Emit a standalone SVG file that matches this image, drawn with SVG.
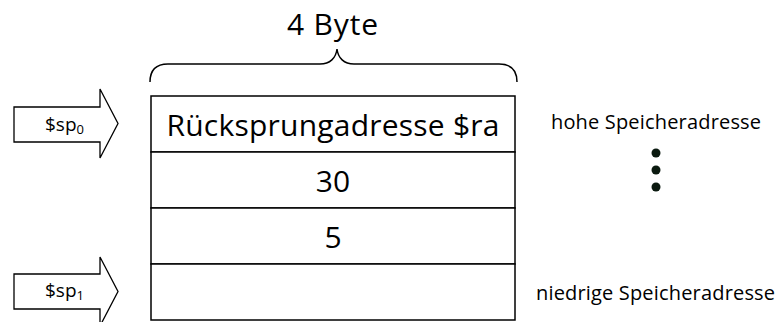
<svg xmlns="http://www.w3.org/2000/svg" width="779" height="322" viewBox="0 0 779 322">
<style>
text{font-family:"Open Sans","Liberation Sans",sans-serif;fill:#000}
.cell{fill:#fff;stroke:#000;stroke-width:1.5}
.arrow{fill:#fff;stroke:#000;stroke-width:1.3;stroke-linejoin:miter}
.big{font-size:30px}
.lab{font-size:20px}
.sp{font-size:19px}
.sub{font-size:13px}
.dot{fill:#0b1a10}
</style>
<rect width="779" height="322" fill="#fff"/>
<g id="brace">
<text class="big" x="332.5" y="35" text-anchor="middle" textLength="91">4 Byte</text>
<path d="M150,82 C150,70 156,64 168,64 L320,64 C330,64 336,58 337,49 C338,58 344,64 354,64 L499,64 C511,64 517,70 517,82" fill="none" stroke="#000" stroke-width="1.5"/>
</g>
<g id="stack">
<g id="row-ra"><rect class="cell" x="151" y="96" width="364" height="56"/><text class="big" x="333" y="136" text-anchor="middle" textLength="333">Rücksprungadresse $ra</text></g>
<g id="row-30"><rect class="cell" x="151" y="152" width="364" height="56"/><text class="big" x="333" y="192" text-anchor="middle">30</text></g>
<g id="row-5"><rect class="cell" x="151" y="208" width="364" height="56"/><text class="big" x="333" y="248" text-anchor="middle">5</text></g>
<g id="row-empty"><rect class="cell" x="151" y="264" width="364" height="56"/></g>
</g>
<g id="connectors">
<g id="sp0"><polygon class="arrow" points="14,107 100,107 100,89 118,123.5 100,158 100,142 14,142"/><text class="sp" x="45" y="131">$sp<tspan class="sub" dy="3">0</tspan></text></g>
<g id="sp1"><polygon class="arrow" points="14,274 100,274 100,257 118,291.5 100,326 100,309 14,309"/><text class="sp" x="45" y="297">$sp<tspan class="sub" dy="3">1</tspan></text></g>
</g>
<g id="labels">
<text class="lab" x="551" y="129" textLength="210">hohe Speicheradresse</text>
<circle class="dot" cx="656" cy="153" r="4.5"/>
<circle class="dot" cx="656" cy="170" r="4.5"/>
<circle class="dot" cx="656" cy="187" r="4.5"/>
<text class="lab" x="536" y="300" textLength="239">niedrige Speicheradresse</text>
</g>
</svg>
